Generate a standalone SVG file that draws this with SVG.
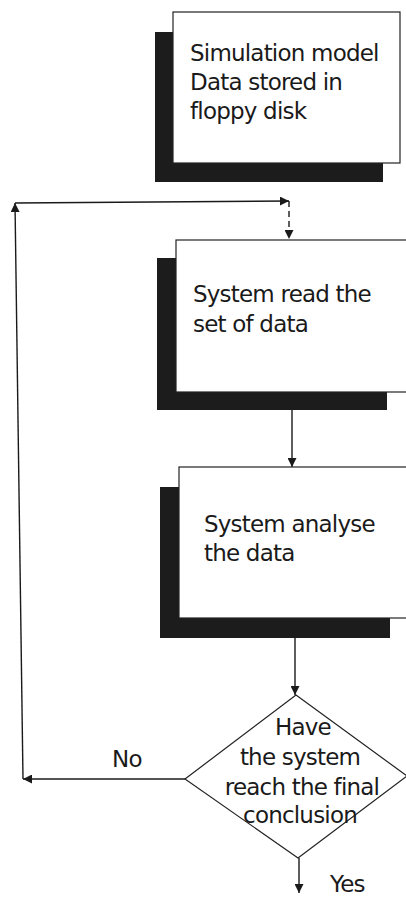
<svg xmlns="http://www.w3.org/2000/svg" width="406" height="898" viewBox="0 0 406 898">
  <style>
    .shadow { fill: #1c1c1c; }
    .box { fill: #ffffff; stroke: #222; stroke-width: 1.2; }
    .lbl { font-family: "DejaVu Sans", "Liberation Sans", sans-serif; font-size: 23px; fill: #1a1a1a; letter-spacing: -0.8px; }
    .mid { text-anchor: middle; }
    .wire { fill: none; stroke: #1a1a1a; stroke-width: 1.4; }
    .dash { stroke-dasharray: 6 4; }
  </style>
  <defs>
    <marker id="arrow" viewBox="0 0 10 10" refX="10" refY="5" markerWidth="9" markerHeight="9" markerUnits="userSpaceOnUse" orient="auto">
      <path d="M0,0 L10,5 L0,10 z" fill="#1a1a1a"/>
    </marker>
  </defs>
  <rect width="406" height="898" fill="#ffffff"/>

  <g id="connectors">
    <!-- loop back: No branch to the top of the read step -->
    <path class="wire" d="M185,779 L23,779" marker-end="url(#arrow)"/>
    <path class="wire" d="M23,779 L15,203" marker-end="url(#arrow)"/>
    <path class="wire" d="M15,203 L289,201" marker-end="url(#arrow)"/>
    <path class="wire dash" d="M289,201 L289,239" marker-end="url(#arrow)"/>
    <!-- main flow -->
    <path class="wire" d="M292,410 L292,467" marker-end="url(#arrow)"/>
    <path class="wire" d="M295,638 L295,695" marker-end="url(#arrow)"/>
    <path class="wire" d="M299,858 L299,893" marker-end="url(#arrow)"/>
    <text class="lbl" x="112" y="767">No</text>
    <text class="lbl" x="330" y="892">Yes</text>
  </g>

  <g id="node-model">
    <rect class="shadow" x="155" y="32" width="228" height="150"/>
    <rect class="box" x="173" y="12" width="227" height="151"/>
    <text class="lbl" x="190" y="61">Simulation model</text>
    <text class="lbl" x="190" y="90">Data stored in</text>
    <text class="lbl" x="190" y="119">floppy disk</text>
  </g>

  <g id="node-read">
    <rect class="shadow" x="157" y="258" width="230" height="152"/>
    <rect class="box" x="176" y="240" width="232" height="152"/>
    <text class="lbl" x="193" y="302">System read the</text>
    <text class="lbl" x="193" y="332">set of data</text>
  </g>

  <g id="node-analyse">
    <rect class="shadow" x="160" y="487" width="230" height="151"/>
    <rect class="box" x="179" y="467" width="232" height="151"/>
    <text class="lbl" x="204" y="532">System analyse</text>
    <text class="lbl" x="204" y="561">the data</text>
  </g>

  <g id="node-decision">
    <path class="box" d="M296,695 L407,776 L298,858 L185,779 Z"/>
    <text class="lbl mid" x="303" y="735">Have</text>
    <text class="lbl mid" x="300" y="765">the system</text>
    <text class="lbl mid" x="302" y="795">reach the final</text>
    <text class="lbl mid" x="300" y="823">conclusion</text>
  </g>
</svg>
